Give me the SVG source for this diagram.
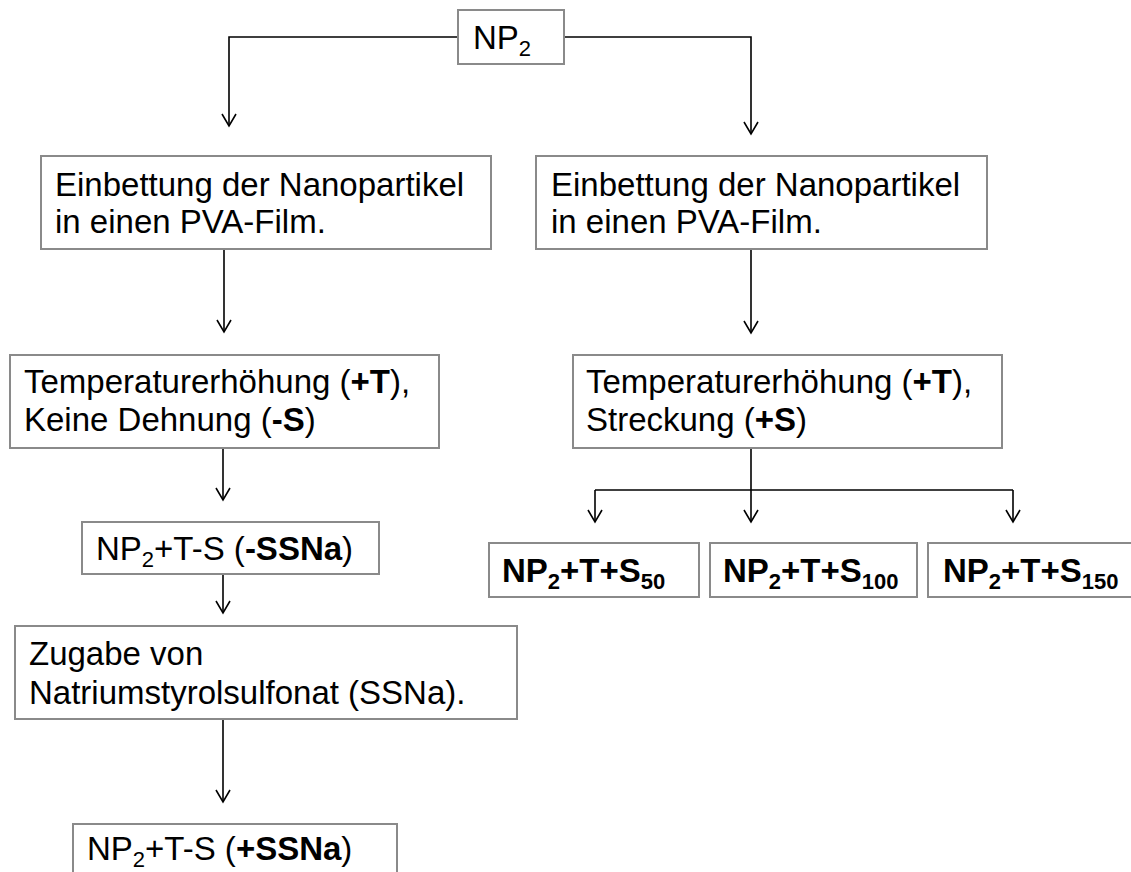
<svg xmlns="http://www.w3.org/2000/svg" width="1131" height="872" viewBox="0 0 1131 872">
<style>
.box{fill:#fff;stroke:#8a8a8a;stroke-width:2}
.t{font-family:"Liberation Sans",Arial,sans-serif;font-size:33px;fill:#000}
.b{font-weight:bold}
.sub{font-size:22px}
.c{fill:none;stroke:#000;stroke-width:1.6}
</style>
<defs>
<marker id="ah" markerUnits="userSpaceOnUse" markerWidth="20" markerHeight="20" viewBox="-14 -10 16 20" refX="0" refY="0" orient="auto">
<path d="M-12,-7 L0,0 L-12,7" fill="none" stroke="#000" stroke-width="1.6"/>
</marker>
</defs>
<rect width="1131" height="872" fill="#fff"/>
<g id="connectors">
<path class="c" d="M458,37 H229 V126" marker-end="url(#ah)"/>
<path class="c" d="M564,37 H751 V134" marker-end="url(#ah)"/>
<path class="c" d="M224,249 V332" marker-end="url(#ah)"/>
<path class="c" d="M223,448 V500" marker-end="url(#ah)"/>
<path class="c" d="M223,574 V613" marker-end="url(#ah)"/>
<path class="c" d="M223,719 V802" marker-end="url(#ah)"/>
<path class="c" d="M751,249 V333" marker-end="url(#ah)"/>
<path class="c" d="M751,448 V522" marker-end="url(#ah)"/>
<path class="c" d="M595,490 H1013"/>
<path class="c" d="M595,490 V522" marker-end="url(#ah)"/>
<path class="c" d="M1013,490 V522" marker-end="url(#ah)"/>
</g>
<g id="np2">
<rect class="box" x="458" y="10" width="106" height="54"/>
<text class="t" x="473" y="49">NP<tspan class="sub" dy="7">2</tspan></text>
</g>
<g id="einbettung-left">
<rect class="box" x="41" y="156" width="450" height="93"/>
<text class="t" x="55" y="196">Einbettung der Nanopartikel</text>
<text class="t" x="55" y="233">in einen PVA-Film.</text>
</g>
<g id="einbettung-right">
<rect class="box" x="536" y="156" width="451" height="93"/>
<text class="t" x="551" y="196">Einbettung der Nanopartikel</text>
<text class="t" x="551" y="233">in einen PVA-Film.</text>
</g>
<g id="temp-left">
<rect class="box" x="10" y="355" width="429" height="93"/>
<text class="t" x="24" y="393">Temperaturerhöhung (<tspan class="b">+T</tspan>),</text>
<text class="t" x="24" y="431">Keine Dehnung (<tspan class="b">-S</tspan>)</text>
</g>
<g id="temp-right">
<rect class="box" x="573" y="355" width="429" height="93"/>
<text class="t" x="586" y="393">Temperaturerhöhung (<tspan class="b">+T</tspan>),</text>
<text class="t" x="586" y="431">Streckung (<tspan class="b">+S</tspan>)</text>
</g>
<g id="np2-t-s-minus">
<rect class="box" x="82" y="522" width="297" height="52"/>
<text class="t" x="96" y="560">NP<tspan class="sub" dy="7">2</tspan><tspan dy="-7">+T-S (</tspan><tspan class="b">-SSNa</tspan>)</text>
</g>
<g id="zugabe">
<rect class="box" x="15" y="626" width="502" height="93"/>
<text class="t" x="29" y="665">Zugabe von</text>
<text class="t" x="29" y="704">Natriumstyrolsulfonat (SSNa).</text>
</g>
<g id="np2-t-s-plus">
<rect class="box" x="73" y="824" width="324" height="60"/>
<text class="t" x="87" y="860">NP<tspan class="sub" dy="7">2</tspan><tspan dy="-7">+T-S (</tspan><tspan class="b">+SSNa</tspan>)</text>
</g>
<g id="s50">
<rect class="box" x="489" y="543" width="210" height="54"/>
<text class="t b" x="502" y="582">NP<tspan class="sub" dy="7">2</tspan><tspan dy="-7">+T+S</tspan><tspan class="sub" dy="7">50</tspan></text>
</g>
<g id="s100">
<rect class="box" x="710" y="543" width="207" height="54"/>
<text class="t b" x="723" y="582">NP<tspan class="sub" dy="7">2</tspan><tspan dy="-7">+T+S</tspan><tspan class="sub" dy="7">100</tspan></text>
</g>
<g id="s150">
<rect class="box" x="928" y="543" width="210" height="54"/>
<text class="t b" x="943" y="582">NP<tspan class="sub" dy="7">2</tspan><tspan dy="-7">+T+S</tspan><tspan class="sub" dy="7">150</tspan></text>
</g>
</svg>
